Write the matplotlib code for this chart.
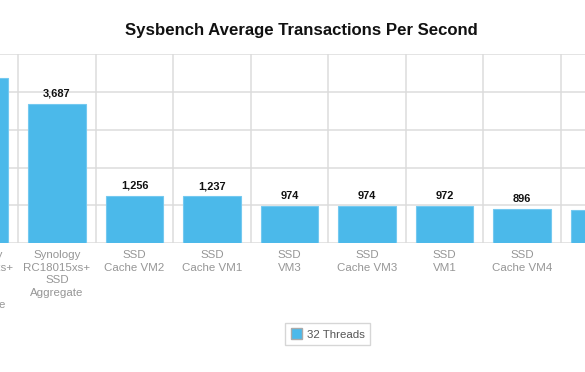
import matplotlib
matplotlib.use("Agg")
import matplotlib.pyplot as plt
from matplotlib.patches import Patch

categories = [
    "Synology\nRC18015xs+\nSSD\nCache\nAggregate",
    "Synology\nRC18015xs+\nSSD\nAggregate",
    "SSD\nCache VM2",
    "SSD\nCache VM1",
    "SSD\nVM3",
    "SSD\nCache VM3",
    "SSD\nVM1",
    "SSD\nCache VM4",
    "SSD\nVM2",
]
values_32_threads = [4377, 3687, 1256, 1237, 974, 974, 972, 896, 880]
series_name = "32 Threads"
title = "Sysbench Average Transactions Per Second"

W, H = 585, 372
DPI = 100
fig = plt.figure(figsize=(W / DPI, H / DPI), dpi=DPI)
plt.rcParams["font.family"] = ["Liberation Sans", "DejaVu Sans"]

def pt(px):
    return px * 72 / DPI

# axes geometry (pixels)
y_bottom, y_top = 243, 54.3
step = 77.5
c0 = -20.5  # pixel centre of category 0
ax = fig.add_axes([0, 1 - y_bottom / H, 1, (y_bottom - y_top) / H])

grid_c = "#dcdcdc"
for yv in range(0, 5001, 1000):
    ax.axhline(yv, color=grid_c, lw=1.1, zorder=0)
for i in range(len(categories) + 1):
    ax.axvline(i - 0.5, color=grid_c, lw=1.1, zorder=0)

x = list(range(len(categories)))
bars = ax.bar(x, values_32_threads, width=0.74, color="#4bb9ea",
              edgecolor="#74c9f0", linewidth=0.8, zorder=2)

for xi, v in zip(x, values_32_threads):
    ax.annotate(f"{v:,}", (xi, v), xytext=(0, 5), textcoords="offset pixels",
                ha="center", va="bottom", fontsize=pt(11), fontweight="bold",
                color="#111111", annotation_clip=False)

for xi, lab in zip(x, categories):
    ax.annotate(lab, (xi, 0), xycoords=("data", "axes fraction"),
                xytext=(0, -7), textcoords="offset pixels",
                ha="center", va="top", fontsize=pt(11.5), color="#969696",
                linespacing=1.32, annotation_clip=False)

ax.set_xticks([])
ax.set_yticks([])
for s in ax.spines.values():
    s.set_visible(False)
ax.set_xlim((0 - c0) / step, (W - c0) / step)
ax.set_ylim(0, 5000)

fig.text(301 / W, 1 - 30.5 / H, title, ha="center", va="center",
         fontsize=pt(16.8), fontweight="bold", color="#111111")

leg = fig.legend(handles=[Patch(facecolor="#4bb9ea", edgecolor="#aaaaaa",
                                label=series_name)],
                 loc="center", bbox_to_anchor=(327.5 / W, 1 - 334 / H),
                 fontsize=pt(11.5), frameon=True, fancybox=False,
                 handlelength=1.0, handleheight=1.0, handletextpad=0.4,
                 borderpad=0.45, labelcolor="#555555")
leg.get_frame().set_edgecolor("#cccccc")
leg.get_frame().set_linewidth(1.0)

fig.savefig("out.png", dpi=DPI)
